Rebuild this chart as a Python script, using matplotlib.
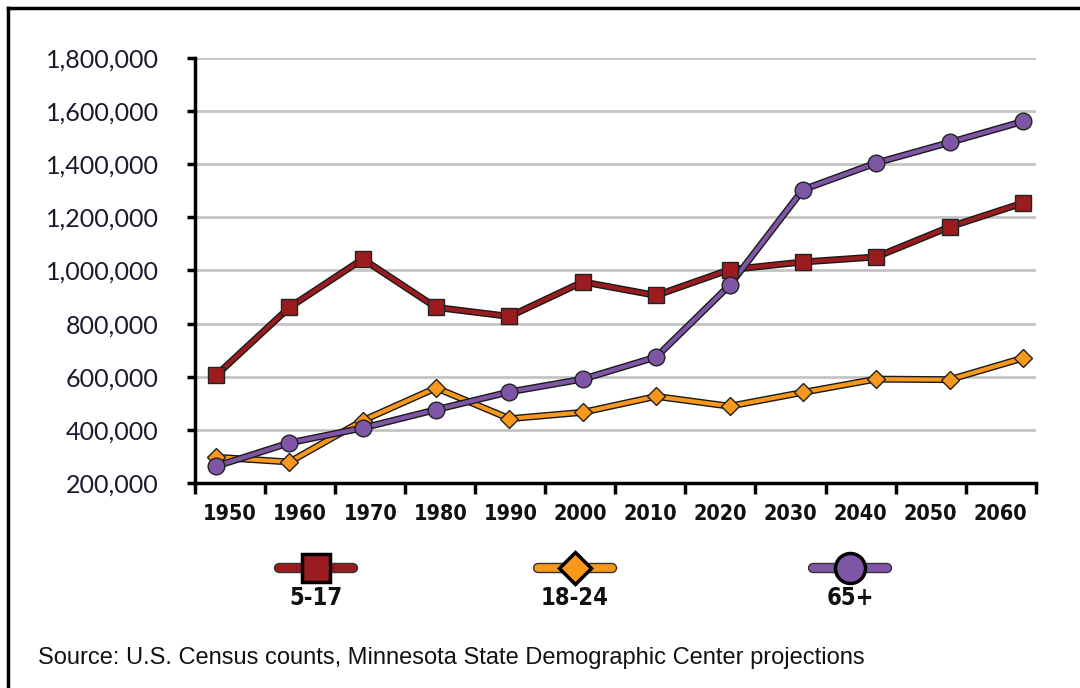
import numpy as np
import matplotlib.pyplot as plt
import matplotlib.patheffects as pe
from matplotlib.lines import Line2D

years = ['1950', '1960', '1970', '1980', '1990', '2000', '2010', '2020',
         '2030', '2040', '2050', '2060']
age_5_17 = [605000, 861000, 1043000, 861000, 827000, 957000, 906000, 1003000,
            1032000, 1051000, 1164000, 1254000]
age_18_24 = [297000, 279000, 435000, 558000, 442000, 466000, 526000, 489000,
             541000, 591000, 589000, 670000]
age_65 = [263000, 351000, 407000, 476000, 543000, 591000, 674000, 944000,
          1304000, 1405000, 1482000, 1561000]

series = [
    ('5-17', age_5_17, '#9B1C1F', 's', 11),
    ('18-24', age_18_24, '#F7981D', 'D', 9),
    ('65+', age_65, '#7F56A6', 'o', 12),
]

narrow = dict(family=['DejaVu Sans'], fontstretch='condensed', fontweight='bold')

fig = plt.figure(figsize=(10.8, 6.88), dpi=100)
ax = fig.add_axes([0.1806, 0.298, 0.7784, 0.6177])

# points sit slightly off the category centres, as in the original
n = len(years)
pts = 0.30 + np.arange(n) * 1.047

outline = [pe.Stroke(linewidth=5, foreground='#1a1a1a'), pe.Normal()]
for name, vals, col, mk, ms in series:
    ax.plot(pts, vals, color=col, lw=3, path_effects=outline, zorder=3)
    ax.plot(pts, vals, ls='none', marker=mk, ms=ms, mfc=col, mec='#222222',
            mew=1, zorder=4)

ax.set_xlim(0, n)
ax.set_ylim(200000, 1800000)
ax.set_yticks(np.arange(200000, 1800001, 200000))
ax.set_yticklabels([f'{v:,}' for v in range(200000, 1800001, 200000)],
                   family=['Lato', 'DejaVu Sans'], fontsize=18, color='#1a1a2e')
ax.set_xticks(np.arange(n + 1))
ax.set_xticklabels([])
ax.set_xticks(np.arange(n) + 0.5, minor=True)
ax.set_xticklabels(years, minor=True, fontsize=15.5, color='#111111', **narrow)
ax.tick_params(axis='x', which='minor', length=0, pad=15)
ax.tick_params(axis='x', which='major', length=8, width=2.5, direction='out')
ax.tick_params(axis='y', length=6, width=2.5, direction='out', pad=20)
ax.grid(axis='y', color='#c4c4c4', lw=2)
ax.set_axisbelow(True)
for s in ['top', 'right']:
    ax.spines[s].set_visible(False)
for s in ['left', 'bottom']:
    ax.spines[s].set_linewidth(2.5)

# legend drawn below the plot
lg = fig.add_axes([0, 0, 1, 1], facecolor='none')
lg.set_xlim(0, 1080)
lg.set_ylim(688, 0)
lg.axis('off')
leg_x = [316, 575, 850]
for (name, vals, col, mk, ms), cx in zip(series, leg_x):
    lg.add_line(Line2D([cx - 37, cx + 37], [568, 568], color=col, lw=5.5,
                       solid_capstyle='round',
                       path_effects=[pe.Stroke(linewidth=7.5, foreground='#333333',
                                               capstyle='round'), pe.Normal()]))
    lg.plot([cx], [568], marker=mk, ms=ms * 1.8, mfc=col, mec='black', mew=2.5)
    lg.text(cx, 598, name, ha='center', va='center', fontsize=17,
            color='#111111', **narrow)

lg.text(38, 658, 'Source: U.S. Census counts, Minnesota State Demographic Center projections',
        ha='left', va='center', fontsize=17, family=['Liberation Sans', 'DejaVu Sans'],
        color='#111111')

# frame around the figure (only top and left edges are visible)
lg.plot([8, 1080], [8, 8], color='black', lw=2.5)
lg.plot([8, 8], [8, 688], color='black', lw=2.5)

fig.savefig('out.png', dpi=100)
